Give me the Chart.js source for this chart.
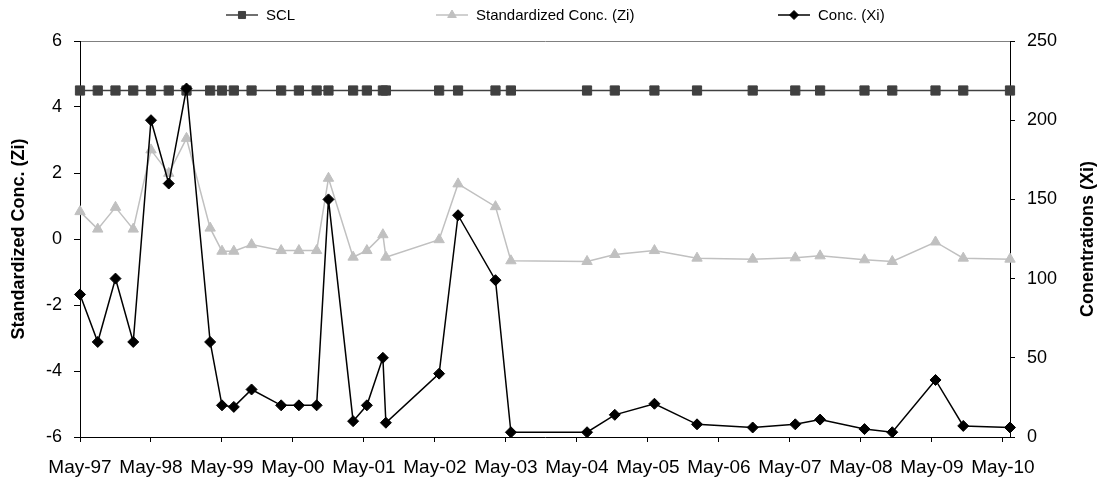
<!DOCTYPE html>
<html>
<head>
<meta charset="utf-8">
<script src="https://cdn.jsdelivr.net/npm/chart.js@4.4.0/dist/chart.umd.min.js"></script>
<style>
  html, body { margin: 0; padding: 0; background: #fff; }
  #wrap { width: 1102px; height: 478px; }
</style>
</head>
<body>
<div id="wrap"><canvas id="chart" width="1102" height="478"></canvas></div>
<script>
// sampling dates
const sampleDates = [
  '1997-05-15', '1997-08-15', '1997-11-15', '1998-02-15', '1998-05-15', '1998-08-15',
  '1998-11-15', '1999-03-15', '1999-05-15', '1999-07-15', '1999-10-15', '2000-03-15',
  '2000-06-15', '2000-09-15', '2000-11-15', '2001-03-20', '2001-05-30', '2001-08-21',
  '2001-09-06', '2002-06-06', '2002-09-12', '2003-03-22', '2003-06-10', '2004-07-06',
  '2004-11-27', '2005-06-18', '2006-01-24', '2006-11-06', '2007-06-12', '2007-10-18',
  '2008-06-03', '2008-10-24', '2009-06-03', '2009-10-24', '2010-06-21'
];

const sclValues = [
  4.5, 4.5, 4.5, 4.5, 4.5, 4.5, 4.5, 4.5, 4.5, 4.5, 4.5, 4.5, 4.5, 4.5, 4.5, 4.5, 4.5, 4.5,
  4.5, 4.5, 4.5, 4.5, 4.5, 4.5, 4.5, 4.5, 4.5, 4.5, 4.5, 4.5, 4.5, 4.5, 4.5, 4.5, 4.5
];

const ziValues = [
  0.83, 0.30, 0.96, 0.30, 2.70, 1.99, 3.05, 0.33, -0.37, -0.37, -0.17, -0.35,
  -0.35, -0.35, 1.84, -0.55, -0.35, 0.13, -0.55, -0.02, 1.67, 0.98, -0.66, -0.68,
  -0.47, -0.35, -0.58, -0.61, -0.57, -0.51, -0.63, -0.68, -0.09, -0.58, -0.61
];

const xiValues = [
  90, 60, 100, 60, 200, 160, 220, 60, 20, 19, 30, 20,
  20, 20, 150, 10, 20, 50, 9, 40, 140, 99, 3, 3,
  14, 21, 8, 6, 8, 11, 5, 3, 36, 7, 6
];

const xTickLabels = [
  'May-97', 'May-98', 'May-99', 'May-00', 'May-01', 'May-02', 'May-03',
  'May-04', 'May-05', 'May-06', 'May-07', 'May-08', 'May-09', 'May-10'
];

const FONT = "'Liberation Sans', Arial, sans-serif";

// months elapsed since the first sample
function monthsSince(start, d) {
  var a = start.split('-').map(Number), b = d.split('-').map(Number);
  return (b[0] - a[0]) * 12 + (b[1] - a[1]) + (b[2] - a[2]) / 30.44;
}
var xs = sampleDates.map(function(d){ return monthsSince(sampleDates[0], d); });
function pts(vals) { return vals.map(function(v, i){ return { x: xs[i], y: v }; }); }

// legend with a line through the marker, Excel style
const excelLegend = {
  id: 'excelLegend',
  afterDraw(chart) {
    var ctx = chart.ctx;
    var pos = [226, 436, 778];
    var y = 15;
    ctx.save();
    chart.data.datasets.forEach(function(ds, i) {
      var x0 = pos[i];
      ctx.strokeStyle = ds.borderColor;
      ctx.lineWidth = 1.5;
      ctx.beginPath(); ctx.moveTo(x0, y); ctx.lineTo(x0 + 32, y); ctx.stroke();
      ctx.fillStyle = ds.pointBackgroundColor;
      ctx.strokeStyle = ds.pointBorderColor;
      ctx.lineWidth = 1;
      Chart.helpers.drawPoint(ctx, { pointStyle: ds.pointStyle, radius: ds.legendRadius, borderWidth: 1, rotation: 0 }, x0 + 16, y);
      ctx.fillStyle = '#000';
      ctx.font = '15px ' + FONT;
      ctx.textBaseline = 'middle';
      ctx.textAlign = 'left';
      ctx.fillText(ds.label, x0 + 40, y + 1);
    });
    // right axis title, reading bottom to top
    var a = chart.chartArea;
    ctx.translate(1088, (a.top + a.bottom) / 2);
    ctx.rotate(-Math.PI / 2);
    ctx.font = 'bold 18px ' + FONT;
    ctx.textAlign = 'center';
    ctx.fillText('Conentrations (Xi)', 0, 0);
    ctx.restore();
  }
};

new Chart(document.getElementById('chart'), {
  type: 'line',
  data: {
    datasets: [
      { label: 'SCL', data: pts(sclValues), yAxisID: 'y', order: 3,
        borderColor: '#404040', borderWidth: 1.5, pointStyle: 'rect', pointRadius: 6.5, legendRadius: 5,
        pointBackgroundColor: '#404040', pointBorderColor: '#404040', pointBorderWidth: 1 },
      { label: 'Standardized Conc. (Zi)', data: pts(ziValues), yAxisID: 'y', order: 2,
        borderColor: '#c0c0c0', borderWidth: 1.5, pointStyle: 'triangle', pointRadius: 6, legendRadius: 5,
        pointBackgroundColor: '#c0c0c0', pointBorderColor: '#c0c0c0', pointBorderWidth: 1 },
      { label: 'Conc. (Xi)', data: pts(xiValues), yAxisID: 'y2', order: 1,
        borderColor: '#000000', borderWidth: 1.5, pointStyle: 'rectRot', pointRadius: 5.5, legendRadius: 4.5,
        pointBackgroundColor: '#000000', pointBorderColor: '#000000', pointBorderWidth: 1 }
    ]
  },
  options: {
    responsive: false,
    animation: false,
    clip: false,
    layout: { padding: { top: 41, left: 0, right: 0, bottom: 0 } },
    elements: { line: { tension: 0 } },
    plugins: { legend: { display: false }, tooltip: { enabled: false } },
    scales: {
      x: {
        type: 'linear',
        min: 0,
        max: xs[xs.length - 1],
        afterFit: function(s){ s.height = 41; },
        afterBuildTicks: function(s){ s.ticks = xTickLabels.map(function(l, i){ return { value: i * 12 }; }); },
        border: { color: '#000', width: 1 },
        grid: { drawOnChartArea: false, tickLength: 5, tickColor: '#000' },
        ticks: { autoSkip: false, maxRotation: 0, padding: 14, color: '#000', font: { family: FONT, size: 19 },
                 callback: function(v, i){ return xTickLabels[i]; } }
      },
      y: {
        position: 'left',
        min: -6, max: 6,
        afterFit: function(s){ s.width = 80; },
        border: { color: '#000', width: 1 },
        grid: { tickLength: 6, tickColor: '#000', color: function(c){ return c.tick && c.tick.value === 6 ? '#808080' : 'rgba(0,0,0,0)'; } },
        ticks: { stepSize: 2, padding: 12, color: '#000', font: { family: FONT, size: 18 } },
        title: { display: true, text: 'Standardized Conc. (Zi)', color: '#000', padding: { top: 8, bottom: 0 },
                 font: { family: FONT, size: 18, weight: 'bold' } }
      },
      y2: {
        position: 'right',
        min: 0, max: 250,
        afterFit: function(s){ s.width = 92; },
        border: { color: '#000', width: 1 },
        grid: { drawOnChartArea: false, tickLength: 5, tickColor: '#000' },
        ticks: { stepSize: 50, padding: 12, color: '#000', font: { family: FONT, size: 18 } }
      }
    }
  },
  plugins: [excelLegend]
});
</script>
</body>
</html>
